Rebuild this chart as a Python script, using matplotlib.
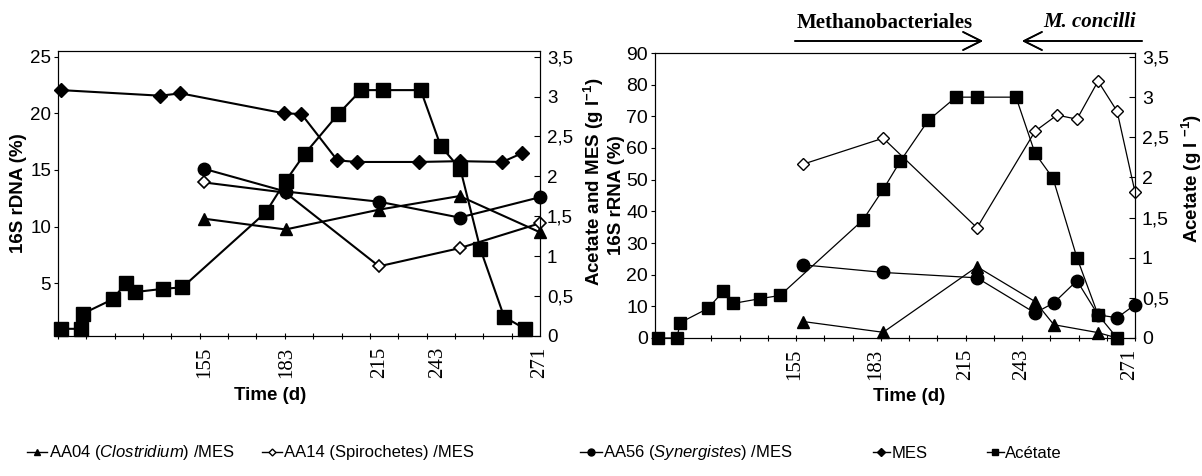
import matplotlib
matplotlib.use('Agg')
import matplotlib.pyplot as plt
import numpy as np
from matplotlib.lines import Line2D

plt.rcParams['font.family'] = ['Liberation Sans', 'DejaVu Sans']
plt.rcParams['mathtext.fontset'] = 'custom'
plt.rcParams['mathtext.rm'] = 'Liberation Sans'
plt.rcParams['mathtext.it'] = 'Liberation Sans:italic'
plt.rcParams['mathtext.bf'] = 'Liberation Sans:bold'

# ---- data, left panel (16S rDNA) ----
L_acet_day = [105.6, 112.4, 113.1, 123.4, 127.9, 131.0, 140.6, 147.5, 176.3, 183.1,
              189.7, 201.3, 209.2, 216.8, 229.8, 236.7, 243.5, 250.4, 258.6, 265.8]
L_acet = [0.09, 0.09, 0.28, 0.46, 0.66, 0.55, 0.59, 0.61, 1.55, 1.94,
          2.28, 2.78, 3.08, 3.08, 3.08, 2.38, 2.09, 1.09, 0.24, 0.09]
L_mes_day = [105.6, 139.9, 146.8, 182.5, 188.6, 201.0, 207.8, 229.1, 243.2, 258.0, 264.8]
L_mes = [3.08, 3.01, 3.04, 2.79, 2.78, 2.20, 2.18, 2.18, 2.19, 2.18, 2.29]
L_day = [155.0, 183.1, 215.4, 243.2, 271.0]
L_aa04 = [10.7, 9.75, 11.5, 12.7, 9.5]
L_aa14 = [13.9, 13.0, 6.5, 8.1, 10.3]
L_aa56 = [15.1, 13.1, 12.2, 10.8, 12.6]

# ---- data, right panel (16S rRNA) ----
R_acet_day = [107.6, 114.1, 115.2, 124.9, 130.1, 133.5, 142.9, 149.8, 178.5, 185.5,
              191.4, 201.1, 210.7, 218.0, 231.5, 238.1, 244.3, 252.6, 259.9, 266.5]
R_acet = [0.0, 0.0, 0.19, 0.37, 0.58, 0.43, 0.49, 0.53, 1.47, 1.85,
          2.2, 2.71, 3.0, 3.0, 3.0, 2.3, 1.99, 1.0, 0.29, 0.0]
R_aa14_day = [157.8, 185.5, 218.0, 238.1, 245.7, 252.6, 259.9, 266.5, 272.7]
R_aa14 = [54.9, 63.1, 34.8, 65.3, 70.4, 69.1, 81.1, 71.6, 46.1]
R_aa56_day = [157.8, 185.5, 218.0, 238.1, 244.6, 252.6, 259.9, 266.5, 272.7]
R_aa56 = [23.1, 20.7, 19.0, 7.9, 11.1, 18.1, 7.3, 6.4, 10.5]
R_aa04_day = [157.8, 185.5, 218.0, 238.1, 244.6, 259.9, 266.5]
R_aa04 = [5.2, 1.8, 22.5, 11.5, 4.2, 1.7, 0.0]

xlabels = ['155', '183', '215', '243', '271']
L_xtick = [155, 183.5, 215.7, 235.6, 271]
R_xtick = [155, 183, 214, 233.6, 271]
acet_ticks = [0, 0.5, 1, 1.5, 2, 2.5, 3, 3.5]
acet_labels = ['0', '0,5', '1', '1,5', '2', '2,5', '3', '3,5']

W, H = 1202, 476
fig = plt.figure(figsize=(W / 100, H / 100), dpi=100)


def box(x0, y0, x1, y1):
    return [x0 / W, 1 - y1 / H, (x1 - x0) / W, (y1 - y0) / H]


def style_x(ax, lo, hi, ticks):
    ax.set_xlim(lo, hi)
    ax.set_xticks(ticks)
    ax.set_xticklabels(xlabels, rotation=90, fontsize=15, family='Liberation Serif')
    ax.set_xticks(np.linspace(lo, hi, 18), minor=True)
    ax.tick_params(axis='x', which='major', length=0, pad=8)
    ax.tick_params(axis='x', which='minor', length=4, direction='inout', width=0.8)


# ---------- left panel ----------
axL = fig.add_axes(box(58, 51, 540, 336))
axL2 = axL.twinx()
lw = 1.5
axL.plot(L_day, L_aa04, '-^', color='k', lw=lw, ms=9, clip_on=False)
axL.plot(L_day, L_aa14, '-D', color='k', mfc='white', lw=lw, ms=6.5, mew=1.2, clip_on=False)
axL.plot(L_day, L_aa56, '-o', color='k', lw=lw, ms=9, clip_on=False)
axL2.plot(L_mes_day, L_mes, '-D', color='k', lw=lw, ms=7, clip_on=False)
axL2.plot(L_acet_day, L_acet, '-s', color='k', lw=lw, ms=9.5, clip_on=False)

style_x(axL, 104.5, 271, L_xtick)
axL.set_ylim(0.35, 25.5)
axL.set_yticks([5, 10, 15, 20, 25])
axL.tick_params(axis='y', labelsize=13.5, length=3, pad=2)
axL2.set_ylim(0, 3.57)
axL2.set_yticks(acet_ticks)
axL2.set_yticklabels(acet_labels)
axL2.tick_params(axis='y', labelsize=13.5, length=4, direction='in', pad=5)
axL.set_ylabel('16S rDNA (%)', fontsize=13.5, fontweight='bold')
axL.yaxis.set_label_coords(-0.064, 0.5)
axL2.set_ylabel(r'Acetate and MES (g l$^{\mathbf{-1}}$)', fontsize=13.5, fontweight='bold')
axL2.yaxis.set_label_coords(1.087, 0.54)
axL.set_xlabel('Time (d)', fontsize=13.5, fontweight='bold')
axL.xaxis.set_label_coords(0.44, -0.18)

# ---------- right panel ----------
axR = fig.add_axes(box(655, 53, 1135, 338))
axR2 = axR.twinx()
lw = 0.9
axR.plot(R_aa04_day, R_aa04, '-^', color='k', lw=lw, ms=8.5, clip_on=False)
axR.plot(R_aa14_day, R_aa14, '-D', color='k', mfc='white', lw=lw, ms=6, mew=1.0, clip_on=False)
axR.plot(R_aa56_day, R_aa56, '-o', color='k', lw=lw, ms=9, clip_on=False)
axR2.plot(R_acet_day, R_acet, '-s', color='k', lw=lw, ms=8, clip_on=False)

style_x(axR, 106.5, 272.7, R_xtick)
axR.set_ylim(0, 90)
axR.set_yticks(range(0, 91, 10))
axR.tick_params(axis='y', labelsize=14, length=3, pad=2)
axR2.set_ylim(0, 3.55)
axR2.set_yticks(acet_ticks)
axR2.set_yticklabels(acet_labels)
axR2.tick_params(axis='y', labelsize=14, length=4, direction='in', pad=5)
axR.set_ylabel('16S rRNA (%)', fontsize=13.5, fontweight='bold')
axR.yaxis.set_label_coords(-0.0625, 0.5)
axR2.set_ylabel(r'Acetate (g l $^{\mathbf{-1}}$)', fontsize=13.5, fontweight='bold')
axR2.yaxis.set_label_coords(1.094, 0.56)
axR.set_xlabel('Time (d)', fontsize=13.5, fontweight='bold')
axR.xaxis.set_label_coords(0.529, -0.175)

# ---------- annotations above right panel ----------
fig.text(885 / W, 1 - 23 / H, 'Methanobacteriales', ha='center', va='center',
         family='Liberation Serif', fontweight='bold', fontsize=15)
fig.text(1090 / W, 1 - 22 / H, 'M. concilli', ha='center', va='center',
         family='Liberation Serif', fontweight='bold', style='italic', fontsize=15)
arrow = dict(arrowstyle='->,head_length=1.3,head_width=0.65', lw=1.2, color='k',
             shrinkA=0, shrinkB=0)
fig.add_artist(plt.annotate('', xy=(983 / W, 1 - 41 / H), xytext=(795 / W, 1 - 41 / H),
                            xycoords='figure fraction', arrowprops=arrow))
fig.add_artist(plt.annotate('', xy=(1022 / W, 1 - 41 / H), xytext=(1142 / W, 1 - 41 / H),
                            xycoords='figure fraction', arrowprops=arrow))

# ---------- legend ----------
items = [
    (27, 1.2, Line2D([], [], color='k', lw=1, marker='^', ms=5), r'AA04 ($\it{Clostridium}$) /MES'),
    (262, 1.2, Line2D([], [], color='k', lw=1, marker='D', ms=3.5, mfc='white'), 'AA14 (Spirochetes) /MES'),
    (580, 1.3, Line2D([], [], color='k', lw=1, marker='o', ms=5), r'AA56 ($\it{Synergistes}$) /MES'),
    (873, 1.0, Line2D([], [], color='k', lw=1, marker='D', ms=4), 'MES'),
    (987, 1.0, Line2D([], [], color='k', lw=1, marker='s', ms=5), 'Acétate'),
]
for x0, hl, h, lab in items:
    fig.legend([h], [lab], loc='center left', bbox_to_anchor=(x0 / W, 1 - 453 / H),
               frameon=False, fontsize=12, handlelength=hl, handletextpad=0.1,
               borderpad=0, borderaxespad=0, numpoints=1)

fig.savefig('out.png', dpi=100)
